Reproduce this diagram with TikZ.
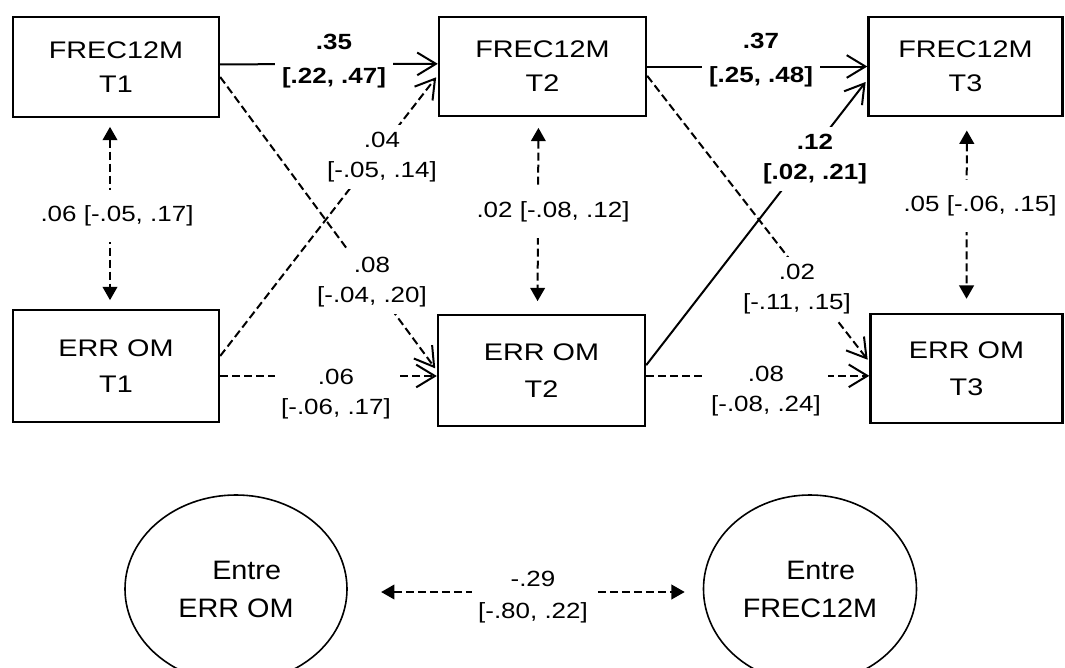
\documentclass[tikz,border=0pt]{standalone}
\usepackage{fontspec}
\setmainfont{Liberation Sans}[FakeStretch=1.18]
\newfontfamily\cajafont{Liberation Sans}[FakeStretch=1.2]
\newfontfamily\elipfont{Liberation Sans}[FakeStretch=1.08]
\usetikzlibrary{arrows.meta,shapes.geometric}

\tikzset{
  caja/.style={draw, line width=1.8pt, align=center, inner sep=0pt, font=\cajafont\fontsize{18}{25.5}\selectfont},
  cajaerr/.style={caja, font=\cajafont\fontsize{18}{27.5}\selectfont},
  elip/.style={draw, ellipse, line width=1.2pt, align=center, inner sep=0pt, minimum height=141pt, font=\elipfont\fontsize{20}{28.5}\selectfont},
  lab/.style={fill=white, inner sep=5pt, align=center, font=\fontsize{16.5}{22.5}\selectfont},
  labb/.style={lab, font=\bfseries\fontsize{16.5}{25.5}\selectfont},
  vlab/.style={lab, inner ysep=12pt},
  sol/.style={line width=1.5pt, -{Straight Barb[length=14pt,width=17pt]}},
  dsh/.style={sol, dash pattern=on 6pt off 3pt},
  diag/.style={shorten >=2pt},
  cov/.style={line width=1.5pt, dash pattern=on 6pt off 3pt, {Triangle[length=10pt,width=11pt]}-{Triangle[length=10pt,width=11pt]}}
}

\begin{document}
\begin{tikzpicture}[x=0.75pt, y=-0.75pt]
    \useasboundingbox (0,0) rectangle (1065,668);
    % Bloques FREC12M
    \node[caja, minimum width=154.5pt, minimum height=75pt] (f1) at (116,67) {FREC12M\\T1};
    \node[caja, minimum width=155.25pt, minimum height=74.25pt] (f2) at (542.5,66.5) {FREC12M\\T2};
    \node[caja, minimum width=145.5pt, minimum height=74.25pt] (f3) at (965.5,66.5) {FREC12M\\T3};
    % Bloques ERR OM
    \node[cajaerr, minimum width=154.5pt, minimum height=84pt] (e1) at (116,366) {ERR OM\\T1};
    \node[cajaerr, minimum width=155.25pt, minimum height=83.25pt] (e2) at (541.5,370.5) {ERR OM\\T2};
    \node[cajaerr, minimum width=144pt, minimum height=81.75pt] (e3) at (966.5,368.5) {ERR OM\\T3};
    % Elipses entre
    \node[elip, minimum width=166.5pt] (lell) at (236,589) {\hspace*{0.8em}Entre\\ERR OM};
    \node[elip, minimum width=159.75pt] (rell) at (810,589) {\hspace*{0.8em}Entre\\FREC12M};

    % Autorregresivos
    \draw[sol] ([yshift=2pt]f1.east) -- ([yshift=2pt]f2.west);
    \draw[sol] (f2.east) -- (f3.west);
    \draw[sol, diag] ([yshift=4pt]e2.east) -- ([yshift=-10pt]f3.west);
    \coordinate (g1) at ([yshift=-7.5pt]e1.east);
    \coordinate (g2) at ([yshift=-4pt]e2.east);
    \draw[dsh] (g1) -- (g1 -| e2.west);
    \draw[dsh] (g2) -- (g2 -| e3.west);
    % Cruzados
    \draw[dsh, diag] ([yshift=-7.5pt]f1.east) -- (e2.west);
    \draw[dsh, diag] ([yshift=7.5pt]e1.east) -- ([yshift=-6.5pt]f2.west);
    \draw[dsh, diag] ([yshift=-7pt]f2.east) -- ([yshift=5pt]e3.west);
    % Covarianzas
    \draw[cov, shorten <=6.5pt, shorten >=6.5pt] ([xshift=-4.5pt]f1.south) -- ([xshift=-4.5pt]e1.north);
    \draw[cov, shorten <=8pt, shorten >=9.5pt] ([xshift=-3pt]f2.south) -- ([xshift=-3pt]e2.north);
    \draw[cov, shorten <=10pt, shorten >=10.5pt] ([xshift=1pt]f3.south) -- (e3.north);
    \coordinate (b1) at ([yshift=-2.25pt]lell.east);
    \draw[cov, shorten <=25pt, shorten >=13.5pt] (b1) -- (b1 -| rell.west);

    % Coeficientes
    \node[labb] (l35) at (334,61) {.35\\{[}.22, .47]};
    \node[labb] (l37) at (761,60) {.37\\{[}.25, .48]};
    \node[labb, font=\bfseries\fontsize{16.5}{22.5}\selectfont] (l12) at (815,159) {.12\\{[}.02, .21]};
    \node[lab] (l04) at (382,157) {.04\\{[}-.05, .14]};
    \node[lab] (l08a) at (372,282) {.08\\{[}-.04, .20]};
    \node[lab] (l02) at (797,289) {.02\\{[}-.11, .15]};
    \node[lab] (l06) at (336,394) {.06\\{[}-.06, .17]};
    \node[lab] (l08b) at (766,391) {.08\\{[}-.08, .24]};
    \node[vlab] (v1) at (117,216) {.06 [-.05, .17]};
    \node[vlab] (v2) at (553,212) {.02 [-.08, .12]};
    \node[vlab] (v3) at (980,206) {.05 [-.06, .15]};
    \node[lab, font=\fontsize{16.5}{24}\selectfont] (l29) at (533,597) {-.29\\{[}-.80, .22]};
\end{tikzpicture}
\end{document}
